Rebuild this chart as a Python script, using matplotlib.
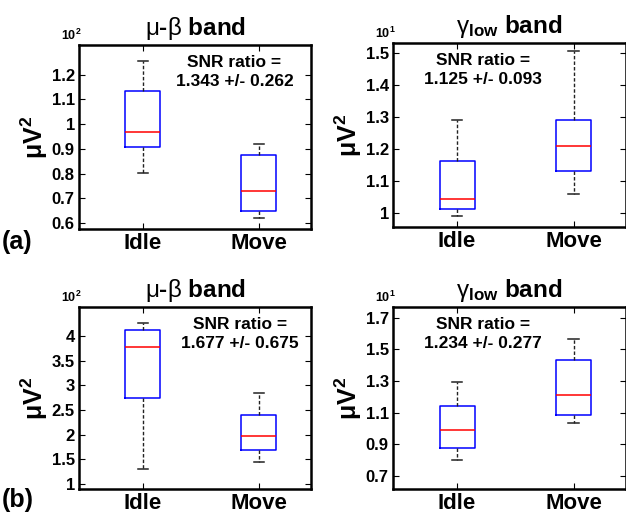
import matplotlib
matplotlib.use("Agg")
import matplotlib.pyplot as plt
from matplotlib.ticker import FixedLocator, FixedFormatter

plt.rcParams['font.family'] = ['Liberation Sans', 'DejaVu Sans']
plt.rcParams['mathtext.fontset'] = 'custom'
plt.rcParams['mathtext.rm'] = 'Liberation Sans'
plt.rcParams['mathtext.bf'] = 'Liberation Sans:bold'
plt.rcParams['mathtext.it'] = 'Liberation Sans:italic'

categories = ["Idle", "Move"]

# box stats: [whislo, q1, med, q3, whishi] per category (scaled units)
a_mubeta = [[0.803, 0.906, 0.970, 1.134, 1.257], [0.620, 0.649, 0.730, 0.876, 0.921]]
a_gamma = [[0.992, 1.012, 1.044, 1.163, 1.289], [1.060, 1.132, 1.209, 1.289, 1.504]]
b_mubeta = [[1.302, 2.745, 3.772, 4.121, 4.262], [1.456, 1.691, 1.973, 2.409, 2.839]]
b_gamma = [[0.799, 0.876, 0.989, 1.140, 1.291], [1.031, 1.082, 1.212, 1.436, 1.568]]

a_mubeta_ticks = [0.6, 0.7, 0.8, 0.9, 1.0, 1.1, 1.2]
a_mubeta_labels = ["0.6", "0.7", "0.8", "0.9", "1", "1.1", "1.2"]
a_gamma_ticks = [1.0, 1.1, 1.2, 1.3, 1.4, 1.5]
a_gamma_labels = ["1", "1.1", "1.2", "1.3", "1.4", "1.5"]
b_mubeta_ticks = [1.0, 1.5, 2.0, 2.5, 3.0, 3.5, 4.0]
b_mubeta_labels = ["1", "1.5", "2", "2.5", "3", "3.5", "4"]
b_gamma_ticks = [0.7, 0.9, 1.1, 1.3, 1.5, 1.7]
b_gamma_labels = ["0.7", "0.9", "1.1", "1.3", "1.5", "1.7"]

snr_texts = ["SNR ratio =\n1.343 +/- 0.262", "SNR ratio =\n1.125 +/- 0.093",
             "SNR ratio =\n1.677 +/- 0.675", "SNR ratio =\n1.234 +/- 0.277"]
exponents = [r"10$^{\mathbf{2}}$", r"10$^{\mathbf{1}}$", r"10$^{\mathbf{2}}$", r"10$^{\mathbf{1}}$"]
title_mb = r"$\mathrm{\mu}$-$\mathrm{\beta}$ band"
title_g = r"$\mathrm{\gamma}_{\mathbf{low}}$ band"

W, H = 626, 516
fig = plt.figure(figsize=(W / 100, H / 100), dpi=100)

def rect(x0, y0, x1, y1):
    return [x0 / W, 1 - y1 / H, (x1 - x0) / W, (y1 - y0) / H]

panels = [
    (rect(79, 45, 311, 229), a_mubeta, (0.576, 1.32), a_mubeta_ticks, a_mubeta_labels, title_mb, 0.67, 0),
    (rect(393, 43, 626, 227), a_gamma, (0.957, 1.530), a_gamma_ticks, a_gamma_labels, title_g, 0.385, 1),
    (rect(79, 307, 311, 489), b_mubeta, (0.90, 4.59), b_mubeta_ticks, b_mubeta_labels, title_mb, 0.695, 2),
    (rect(393, 307, 626, 489), b_gamma, (0.616, 1.769), b_gamma_ticks, b_gamma_labels, title_g, 0.385, 3),
]

for r, data, ylim, ticks, labels, title, snr_x, idx in panels:
    ax = fig.add_axes(r)
    stats = []
    for name, d in zip(categories, data):
        stats.append(dict(label=name, whislo=d[0], q1=d[1], med=d[2], q3=d[3], whishi=d[4], fliers=[]))
    ax.bxp(stats, positions=[1, 2], widths=0.3, capwidths=0.09, showfliers=False,
           boxprops=dict(color='#0000FF', linewidth=1.1),
           medianprops=dict(color='#FF0000', linewidth=1.1),
           whiskerprops=dict(color='#222222', linewidth=1.0, linestyle=(0, (2.5, 1.5))),
           capprops=dict(color='#222222', linewidth=1.1))
    ax.set_xlim(0.45, 2.45)
    ax.set_ylim(*ylim)
    ax.yaxis.set_major_locator(FixedLocator(ticks))
    ax.yaxis.set_major_formatter(FixedFormatter(labels))
    ax.set_xticks([1, 2])
    ax.set_xticklabels(categories, fontsize=16, fontweight='bold')
    for t in ax.get_yticklabels():
        t.set_fontsize(12)
        t.set_fontweight('bold')
    ax.tick_params(axis='both', direction='in', top=True, right=True, length=4, width=0.8)
    ax.tick_params(axis='x', pad=3)
    ax.tick_params(axis='y', pad=3)
    for s in ax.spines.values():
        s.set_linewidth(1.8)
    ax.set_title(title, fontsize=17.5, fontweight='bold', pad=7)
    ax.set_ylabel(r"μV$^{\mathbf{2}}$", fontsize=18, fontweight='bold', labelpad=1)
    ax.text(snr_x, 0.945, snr_texts[idx], transform=ax.transAxes, ha='center', va='top',
            fontsize=12.5, fontweight='bold', linespacing=1.3)
    ax.text(-0.035, 1.012, exponents[idx], transform=ax.transAxes, ha='center', va='bottom',
            fontsize=9, fontweight='bold')

fig.text(2 / W, 1 - 242 / H, "(a)", fontsize=18, fontweight='bold', ha='left', va='center')
fig.text(2 / W, 1 - 500 / H, "(b)", fontsize=18, fontweight='bold', ha='left', va='center')

fig.savefig("out.png", dpi=100)
